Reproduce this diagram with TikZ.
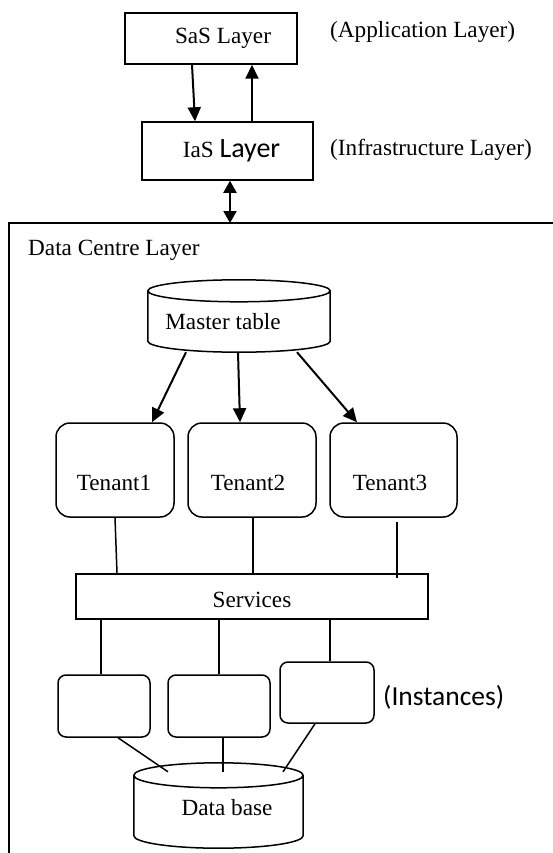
\documentclass[tikz,border=0pt]{standalone}
\usepackage{fontspec}
\setmainfont{Liberation Serif}
\newfontfamily\calfont{Carlito}
\usetikzlibrary{arrows.meta,calc}
\newcommand\drawcyl[2]{%
  \draw[line width=1.5pt] let \p1=(#1.north west),\p2=(#1.south east),\n1={(\x2-\x1)/2} in
    (\x1+\n1,\y1-#2pt) ellipse [x radius=\n1,y radius=#2pt]
    (\x1,\y1-#2pt) -- (\x1,\y2+#2pt)
    arc [start angle=180,end angle=360,x radius=\n1,y radius=#2pt] -- (\x2,\y1-#2pt);}
\begin{document}
\begin{tikzpicture}[x=1pt,y=-1pt,
  font=\fontsize{23.2}{28}\selectfont,
  box/.style={draw,line width=1.5pt,inner sep=0pt},
  rbox/.style={box,rounded corners=14pt},
  ibox/.style={box,rounded corners=8pt},
  cylbox/.style={inner sep=0pt},
  txt/.style={inner sep=0pt},
  arr/.style={line width=2pt,-{Triangle[length=14pt,width=13pt]}},
  darr/.style={line width=2pt,{Triangle[length=12pt,width=13pt]}-{Triangle[length=12pt,width=13pt]}},
  ln/.style={line width=1.5pt}]
\useasboundingbox (0,0) rectangle (553,853);

% top layers
\node[box,minimum width=172pt,minimum height=51pt] (sas) at (211,38.5) {\hspace*{24pt}SaS Layer};
\node[box,minimum width=171pt,minimum height=58pt] (ias) at (227.5,151) {\hspace*{8pt}IaS {\calfont\fontsize{28}{32}\selectfont Layer}};
\node[txt,anchor=west] (app) at (330,32) {(Application Layer)};
\node[txt,anchor=west] (inf) at (330,150) {(Infrastructure Layer)};

\draw[arr] ([xshift=-19pt]sas.south) -- ([xshift=-32.5pt]ias.north);
\draw[arr] ([xshift=24.5pt]ias.north) -- ([xshift=41pt]sas.south);

% data centre frame (cropped)
\coordinate (dctop) at (230,223);
\draw[line width=1.5pt] (9,853) -- (9,223) -- (553,223);
\draw[darr] ([xshift=2.5pt]ias.south) -- (dctop);
\node[txt,anchor=west] (dcl) at (28,250) {Data Centre Layer};

% master table
\node[cylbox,minimum width=182pt,minimum height=72pt] (mt) at (239,316) {};
\drawcyl{mt}{11}
\node[txt] (mtl) at (223,322) {Master table};

% tenants
\node[rbox,minimum width=118pt,minimum height=94pt] (t1) at (115,470) {};
\node[rbox,minimum width=128pt,minimum height=94pt] (t2) at (252,470) {};
\node[rbox,minimum width=127pt,minimum height=94pt] (t3) at (393.5,470) {};
\node[txt] (t1l) at (114,483) {Tenant1};
\node[txt] (t2l) at (248,483) {Tenant2};
\node[txt] (t3l) at (390,483) {Tenant3};

\draw[arr] ([xshift=-53pt]mt.south) -- ([xshift=37pt]t1.north);
\draw[arr] ([xshift=-1pt]mt.south) -- ([xshift=-12pt]t2.north);
\draw[arr] ([xshift=58pt]mt.south) -- ([xshift=-36.5pt]t3.north);

% services
\node[box,minimum width=352pt,minimum height=45pt] (srv) at (252,596.5) {};
\node[txt] (srvl) at (252,600) {Services};

\draw[ln] (t1.south) -- ([xshift=-135pt]srv.north);
\draw[ln] ([xshift=1pt]t2.south) -- ([xshift=1pt]srv.north);
\draw[ln] ([xshift=3.5pt,yshift=-4pt]t3.south) -- ([xshift=145pt,yshift=-5pt]srv.north);

% instances
\node[ibox,minimum width=92pt,minimum height=62pt] (i1) at (104,706) {};
\node[ibox,minimum width=102pt,minimum height=62pt] (i2) at (219,706) {};
\node[ibox,minimum width=94pt,minimum height=61pt] (i3) at (327,692.5) {};
\node[txt,anchor=west] (insl) at (383,697) {\calfont\fontsize{27.5}{32}\selectfont (Instances)};

\draw[ln] ([xshift=-151pt]srv.south) -- ([xshift=-3pt]i1.north);
\draw[ln] ([xshift=-33pt]srv.south) -- (i2.north);
\draw[ln] ([xshift=78pt]srv.south) -- ([xshift=3pt]i3.north);

% data base
\node[cylbox,minimum width=169pt,minimum height=85pt] (db) at (218.5,805.5) {};
\drawcyl{db}{12.5}
\node[txt] (dbl) at (227,808) {Data base};

\draw[ln] ([xshift=14pt]i1.south) -- ([xshift=-50.5pt,yshift=-9pt]db.north);
\draw[ln] ([xshift=4pt]i2.south) -- ([xshift=4.5pt,yshift=-9pt]db.north);
\draw[ln] ([xshift=-12pt]i3.south) -- ([xshift=64.5pt,yshift=-9pt]db.north);
\end{tikzpicture}
\end{document}
